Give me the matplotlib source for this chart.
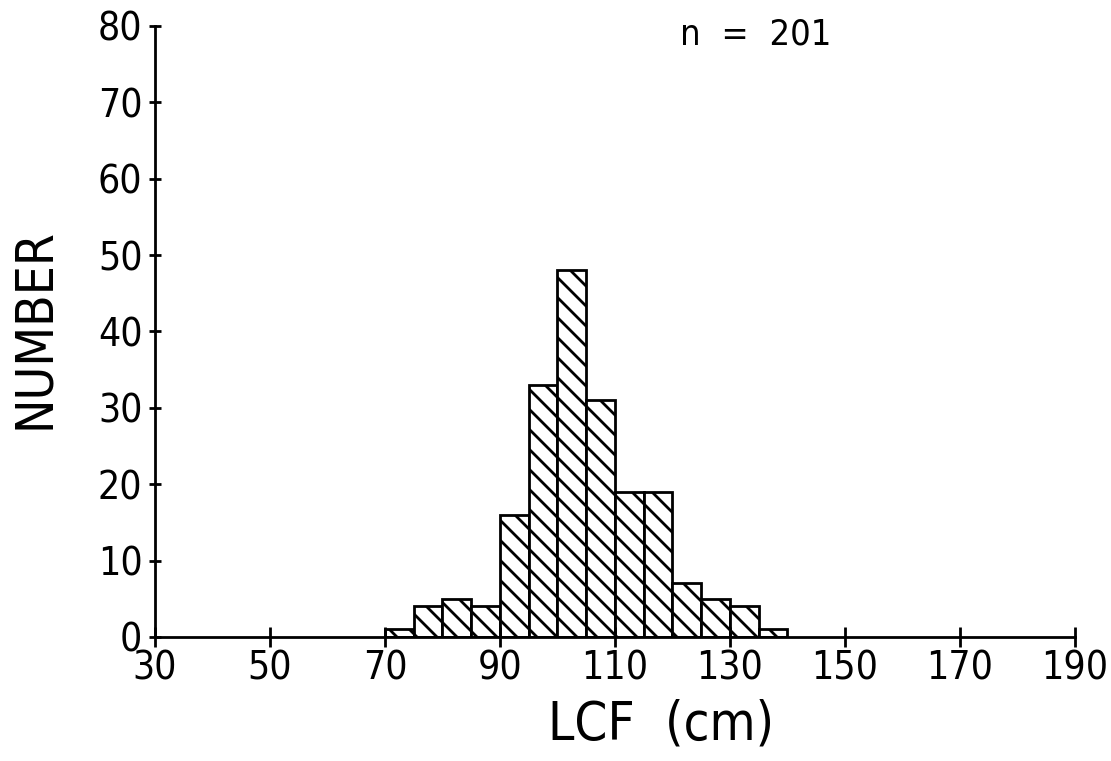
import numpy as np
from matplotlib import pyplot as plt

# histogram of LCF, bins of 5 cm
bin_edges = [70, 75, 80, 85, 90, 95, 100, 105, 110, 115, 120, 125, 130, 135, 140]
counts = [1, 4, 5, 4, 16, 33, 48, 31, 19, 19, 7, 5, 4, 1]
x_ticks = [30, 50, 70, 90, 110, 130, 150, 170, 190]
y_ticks = [0, 10, 20, 30, 40, 50, 60, 70, 80]

DPI = 120
s = 100 / DPI  # sizes below are given in 100-dpi terms

plt.rcParams['hatch.linewidth'] = 2.0 * s
plt.rcParams['font.family'] = ['DejaVu Sans']
plt.rcParams['font.stretch'] = 'condensed'

fig = plt.figure(figsize=(1111 / DPI, 761 / DPI), dpi=DPI)
ax = fig.add_axes([0.1395, 0.163, 0.828, 0.803])

left = np.array(bin_edges[:-1])
widths = np.diff(bin_edges)
ax.bar(left, counts, width=widths, align='edge', color='white',
       edgecolor='black', linewidth=2 * s, hatch='\\\\')

ax.set_xlim(30, 190)
ax.set_ylim(0, 80)
ax.set_xticks(x_ticks)
ax.set_yticks(y_ticks)
ax.spines['top'].set_visible(False)
ax.spines['right'].set_visible(False)
ax.spines['left'].set_linewidth(2 * s)
ax.spines['bottom'].set_linewidth(2 * s)
ax.tick_params(axis='x', direction='inout', length=14 * s, width=2 * s,
               labelsize=28 * s, pad=2 * s)
ax.tick_params(axis='y', direction='inout', length=8 * s, width=2 * s,
               labelsize=28 * s, pad=5 * s)

ax.set_xlabel('LCF  (cm)', fontsize=38 * s)
ax.xaxis.set_label_coords(0.55, -0.1)
ax.xaxis.label.set_va('top')
ax.set_ylabel('NUMBER', fontsize=37 * s)
ax.yaxis.set_label_coords(-0.103, 0.504)
ax.text(0.68, 0.955, 'n  =  201', transform=fig.transFigure,
        fontsize=26 * s, ha='center', va='center')

fig.savefig('out.png', dpi=DPI)
